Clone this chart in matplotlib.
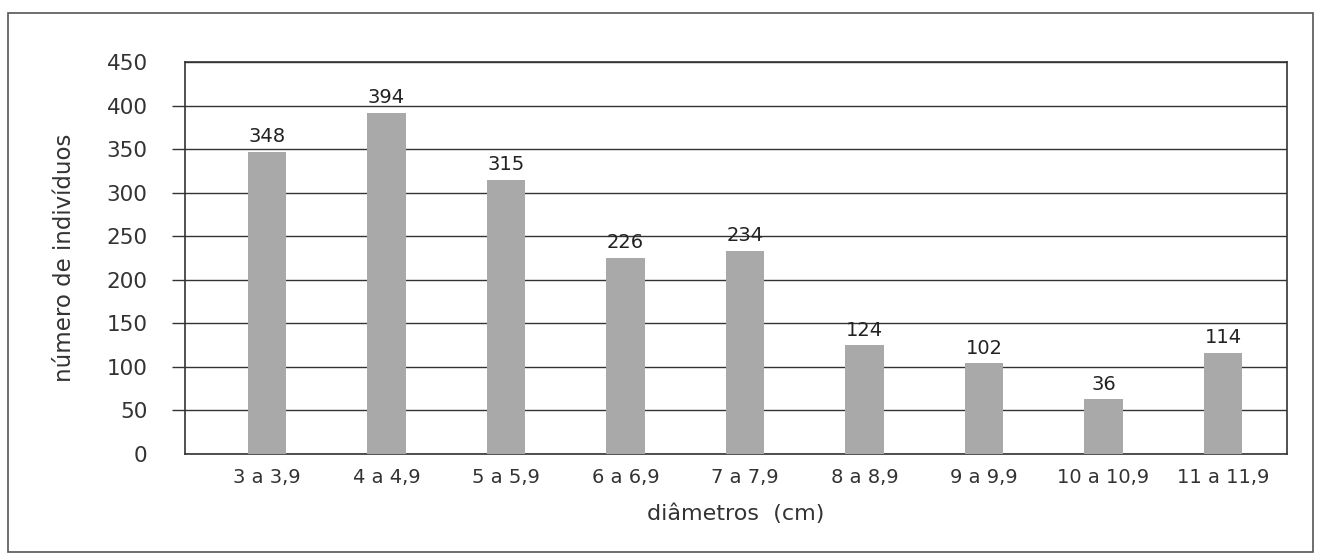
import matplotlib.pyplot as plt
from matplotlib.patches import Rectangle

# data
classes = ["3 a 3,9", "4 a 4,9", "5 a 5,9", "6 a 6,9", "7 a 7,9",
           "8 a 8,9", "9 a 9,9", "10 a 10,9", "11 a 11,9"]
bar_heights = [347, 392, 315, 225, 233, 125, 104, 63, 116]
bar_labels = ["348", "394", "315", "226", "234", "124", "102", "36", "114"]
y_ticks = [0, 50, 100, 150, 200, 250, 300, 350, 400, 450]

fig = plt.figure(figsize=(13.22, 5.57), dpi=100)
fig.patch.set_facecolor("white")

# outer frame around the chart
fig.patches.append(Rectangle((8 / 1322, 5 / 557), 1305 / 1322, 539 / 557,
                             transform=fig.transFigure, fill=False,
                             edgecolor="#555555", linewidth=1.2))

ax = fig.add_axes([185 / 1322, 1 - 454 / 557, 1102 / 1322, 392 / 557])

x = range(len(classes))
ax.bar(x, bar_heights, width=0.32, color="#a9a9a9", zorder=3)
for xi, h, lab in zip(x, bar_heights, bar_labels):
    ax.annotate(lab, (xi, h), xytext=(0, 4), textcoords="offset points",
                ha="center", va="bottom", fontsize=14, color="#222222", zorder=4)

ax.set_ylim(0, 450)
ax.set_xlim(-0.686, 8.535)
ax.set_yticks(y_ticks)
ax.set_yticklabels([str(t) for t in y_ticks])
ax.yaxis.grid(True, color="#333333", linewidth=1.0, zorder=1)
ax.tick_params(axis="y", length=9.4, width=1.0, color="#333333", pad=17.5,
               labelsize=15.5, labelcolor="#333333")
ticks = ax.yaxis.get_major_ticks()
ticks[0].tick1line.set_visible(False)
ticks[-1].tick1line.set_visible(False)

ax.set_xticks(list(x))
ax.set_xticklabels(classes)
ax.tick_params(axis="x", length=0, pad=10, labelsize=14, labelcolor="#333333")

for s in ax.spines.values():
    s.set_color("#333333")
    s.set_linewidth(1.2)

ax.set_ylabel("número de indivíduos", fontsize=16.5, color="#333333", labelpad=22)
ax.set_xlabel("diâmetros  (cm)", fontsize=16, color="#333333", labelpad=12)

fig.savefig("out.png", dpi=100, facecolor="white")
